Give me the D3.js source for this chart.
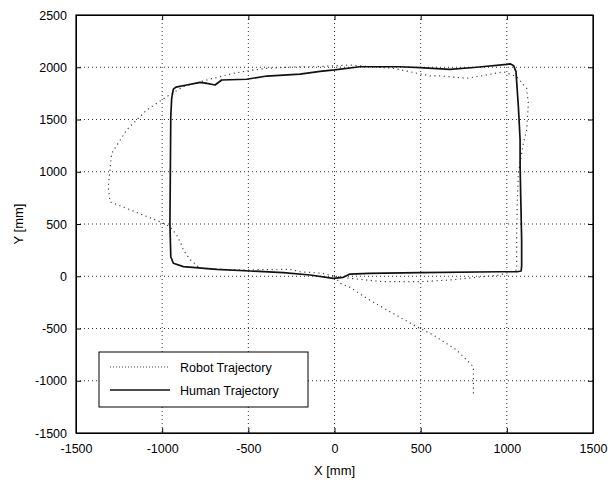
<!DOCTYPE html>
<html>
<head>
<meta charset="utf-8">
<script src="https://cdn.jsdelivr.net/npm/d3@7"></script>
<style>
  body { margin: 0; background: #fff; }
  text { font-family: "Liberation Sans", Arial, sans-serif; }
</style>
</head>
<body>
<div id="chart"></div>
<script>
// tick values
var xTicks = [-1500, -1000, -500, 0, 500, 1000, 1500];
var yTicks = [-1500, -1000, -500, 0, 500, 1000, 1500, 2000, 2500];

// robot trajectory (dotted), [x, y] in mm
var robotX = [806, 806, 709, 573, 477, 322, 187, 90, 32, 0, 90, 283, 496, 670, 960, 1057, 1057, 1061, 1067, 1096, 1115, 1125, 1115, 1057, 980, 883, 767, 612, 554, 342, 90, -103, -200, -393, -471, -587, -742, -877, -974, -1090, -1206, -1293, -1313, -1303, -1013, -955, -916, -887, -877, -839, -780, -587, -258, -200, -67, 0];
var robotY = [-1121, -866, -706, -562, -483, -339, -211, -106, -67, 0, -20, -52, -52, -36, 12, 60, 411, 730, 985, 1272, 1400, 1655, 1798, 1910, 1957, 1926, 1894, 1917, 1917, 1990, 2021, 2005, 2005, 1990, 1974, 1942, 1878, 1814, 1718, 1591, 1400, 1176, 857, 713, 522, 474, 395, 299, 251, 162, 76, 60, 66, 43, 28, 0];

// human trajectory (solid)
var humanX = [-7, 51, 90, 200, 496, 960, 1060, 1083, 1086, 1086, 1077, 1077, 1067, 1053, 1040, 1019, 1000, 825, 670, 496, 380, 148, 0, -84, -200, -393, -510, -655, -693, -740, -780, -858, -920, -935, -945, -950, -955, -950, -935, -877, -684, -490, -297, -142, -7];
var humanY = [-20, -10, 21, 28, 34, 43, 43, 50, 100, 347, 1049, 1304, 1622, 1958, 2015, 2033, 2028, 2000, 1980, 1996, 2005, 2005, 1974, 1960, 1935, 1916, 1885, 1878, 1830, 1845, 1855, 1830, 1810, 1790, 1700, 1527, 500, 187, 124, 92, 66, 50, 34, 12, -20];

var legendLabels = ["Robot Trajectory", "Human Trajectory"];

var w = 614, h = 483;
var mLeft = 76, mRight = 593, mTop = 15, mBottom = 433;

var x = d3.scaleLinear().domain([-1500, 1500]).range([mLeft, mRight]);
var y = d3.scaleLinear().domain([-1500, 2500]).range([mBottom, mTop]);

var svg = d3.select("#chart").append("svg")
  .attr("width", w).attr("height", h);

// grid
svg.append("g").selectAll("line").data(xTicks.slice(1, -1)).enter().append("line")
  .attr("x1", d => x(d)).attr("x2", d => x(d))
  .attr("y1", mTop).attr("y2", mBottom)
  .attr("stroke", "#333").attr("stroke-width", 1).attr("stroke-dasharray", "1,3");
svg.append("g").selectAll("line").data(yTicks.slice(1, -1)).enter().append("line")
  .attr("y1", d => y(d)).attr("y2", d => y(d))
  .attr("x1", mLeft).attr("x2", mRight)
  .attr("stroke", "#333").attr("stroke-width", 1).attr("stroke-dasharray", "1,3");

// axes (ticks inward)
var fmt = d => String(d);
var xAxis = d3.axisBottom(x).tickValues(xTicks).tickFormat(fmt).tickSizeInner(-5).tickSizeOuter(0).tickPadding(11);
var yAxis = d3.axisLeft(y).tickValues(yTicks).tickFormat(fmt).tickSizeInner(-5).tickSizeOuter(0).tickPadding(9);

svg.append("g").attr("transform", "translate(0," + mBottom + ")").call(xAxis);
svg.append("g").attr("transform", "translate(" + mLeft + ",0)").call(yAxis);
svg.append("g").attr("transform", "translate(0," + mTop + ")")
  .call(d3.axisTop(x).tickValues(xTicks).tickSizeInner(-5).tickSizeOuter(0).tickFormat(""));
svg.append("g").attr("transform", "translate(" + mRight + ",0)")
  .call(d3.axisRight(y).tickValues(yTicks).tickSizeInner(-5).tickSizeOuter(0).tickFormat(""));

svg.selectAll(".tick text").attr("font-size", 12.5).attr("fill", "#000")
  .style("font-family", "'Liberation Sans', Arial, sans-serif");
svg.selectAll(".domain, .tick line").attr("stroke", "#000");

svg.append("rect").attr("x", mLeft).attr("y", mTop)
  .attr("width", mRight - mLeft).attr("height", mBottom - mTop)
  .attr("fill", "none").attr("stroke", "#000").attr("stroke-width", 1.2);

// lines
var line = d3.line().x(d => x(d[0])).y(d => y(d[1]));
var robot = robotX.map((v, i) => [v, robotY[i]]);
var human = humanX.map((v, i) => [v, humanY[i]]);

svg.append("path").datum(robot).attr("d", line)
  .attr("fill", "none").attr("stroke", "#444").attr("stroke-width", 1.2)
  .attr("stroke-dasharray", "1.2,3.5");
svg.append("path").datum(human).attr("d", line)
  .attr("fill", "none").attr("stroke", "#111").attr("stroke-width", 1.7)
  .attr("stroke-linejoin", "round");

// axis labels
svg.append("text").attr("x", (mLeft + mRight) / 2).attr("y", 475)
  .attr("text-anchor", "middle").attr("font-size", 13).text("X [mm]");
svg.append("text").attr("transform", "translate(23," + ((mTop + mBottom) / 2) + ") rotate(-90)")
  .attr("text-anchor", "middle").attr("font-size", 13).text("Y [mm]");

// legend
var lg = svg.append("g");
lg.append("rect").attr("x", 99).attr("y", 352).attr("width", 209).attr("height", 55)
  .attr("fill", "#fff").attr("stroke", "#000").attr("stroke-width", 1);
lg.selectAll("line").data(legendLabels).enter().append("line")
  .attr("x1", 110).attr("x2", 170)
  .attr("y1", (d, i) => 367 + i * 23).attr("y2", (d, i) => 367 + i * 23)
  .attr("stroke", (d, i) => i === 0 ? "#444" : "#111")
  .attr("stroke-width", (d, i) => i === 0 ? 1 : 1.6)
  .attr("stroke-dasharray", (d, i) => i === 0 ? "1,2" : null);
lg.selectAll("text").data(legendLabels).enter().append("text")
  .attr("x", 180).attr("y", (d, i) => 372 + i * 23)
  .attr("font-size", 12.5).text(d => d);
</script>
</body>
</html>
